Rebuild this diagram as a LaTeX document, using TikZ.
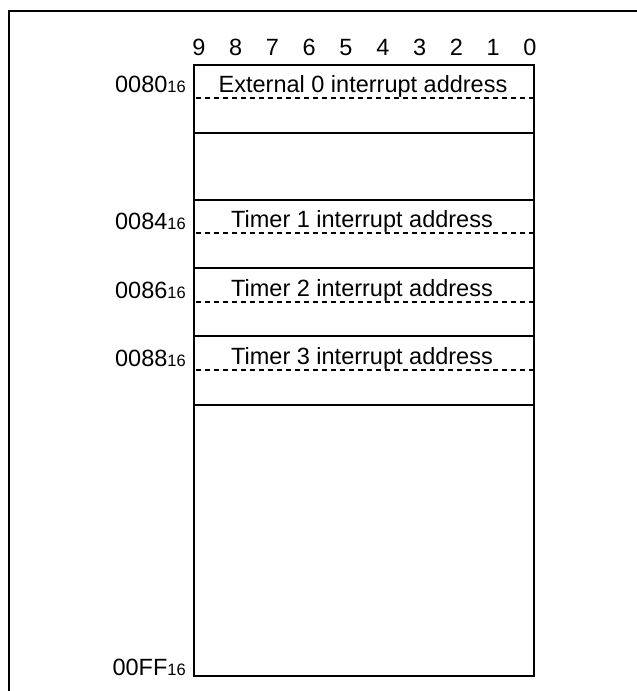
\documentclass[tikz,border=0pt]{standalone}
\usepackage{fontspec}
\setmainfont{Liberation Sans}
\begin{document}
\begin{tikzpicture}[x=1pt,y=-1pt,
  lbl/.style={anchor=base, inner sep=0pt, font=\fontsize{23.5}{28}\selectfont},
  addr/.style={anchor=base east, inner sep=0pt, font=\fontsize{23.5}{28}\selectfont},
  frameline/.style={line width=2pt},
  solidline/.style={line width=2.6pt},
  dashline/.style={line width=1.2pt, dash pattern=on 5pt off 4pt}]
\useasboundingbox (0,0) rectangle (637,691);
% outer frame
\draw[frameline] (9,691) -- (9,10.5) -- (637,10.5);
% bit numbers
\foreach \i in {0,...,9} {
  \node[lbl] (bit\i) at ({530-36.8*\i},55) {\i};
}
% memory box
\draw[solidline] (194,65) rectangle (534,676);
\foreach \y in {133,200,268,336,405} {
  \draw[solidline] (194,\y) -- (534,\y);
}
\foreach \y in {98,233,302,370} {
  \draw[dashline] (195.5,\y) -- (532.5,\y);
}
% entries
\node[lbl] (ext0) at (363,92) {External 0 interrupt address};
\node[lbl] (tim1) at (362,227) {Timer 1 interrupt address};
\node[lbl] (tim2) at (362,296) {Timer 2 interrupt address};
\node[lbl] (tim3) at (362,364) {Timer 3 interrupt address};
% addresses
\node[addr] (a80) at (186,92) {0080{\fontsize{16.5}{20}\selectfont 16}};
\node[addr] (a84) at (186,229) {0084{\fontsize{16.5}{20}\selectfont 16}};
\node[addr] (a86) at (186,298) {0086{\fontsize{16.5}{20}\selectfont 16}};
\node[addr] (a88) at (186,366) {0088{\fontsize{16.5}{20}\selectfont 16}};
\node[addr] (aff) at (186,675) {00FF{\fontsize{16.5}{20}\selectfont 16}};
\end{tikzpicture}
\end{document}
